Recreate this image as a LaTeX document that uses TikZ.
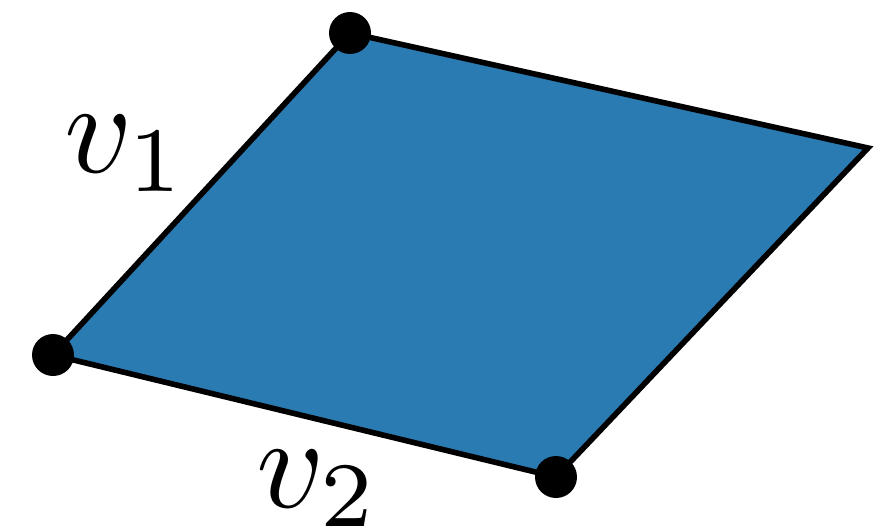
\documentclass[tikz,border=0pt]{standalone}
\usetikzlibrary{calc}
\definecolor{face}{HTML}{2B7BB3}

\begin{document}
\begin{tikzpicture}[
    x = 0.02cm, y = -0.02cm,
    edge/.style  = {draw=black, line width=3.2pt, line join=miter},
    vert/.style  = {circle, fill=black, inner sep=0pt, minimum size=0.84cm},
    label/.style = {inner sep=0pt, anchor=base west, scale=7.5},
]
\useasboundingbox (0,0) rectangle (896,528);

% --------------------------------------------- corners --------------------------------------------
\coordinate (top)    at (350,33);
\coordinate (right)  at (868,148);
\coordinate (bottom) at (556,477);
\coordinate (left)   at (53,355);

% ---------------------------------------------- face ----------------------------------------------
\path[edge, fill=face] (top) -- (right) -- (bottom) -- (left) -- cycle;

% --------------------------------------------- vertices -------------------------------------------
\node[vert] (ptop)    at (top)    {};
\node[vert] (pleft)   at (left)   {};
\node[vert] (pbottom) at (bottom) {};

% --------------------------------------------- labels ---------------------------------------------
\node[label] (vone) at (62,172) {$v_1$};
\node[label] (vtwo) at (254,507) {$v_2$};

\end{tikzpicture}
\end{document}
